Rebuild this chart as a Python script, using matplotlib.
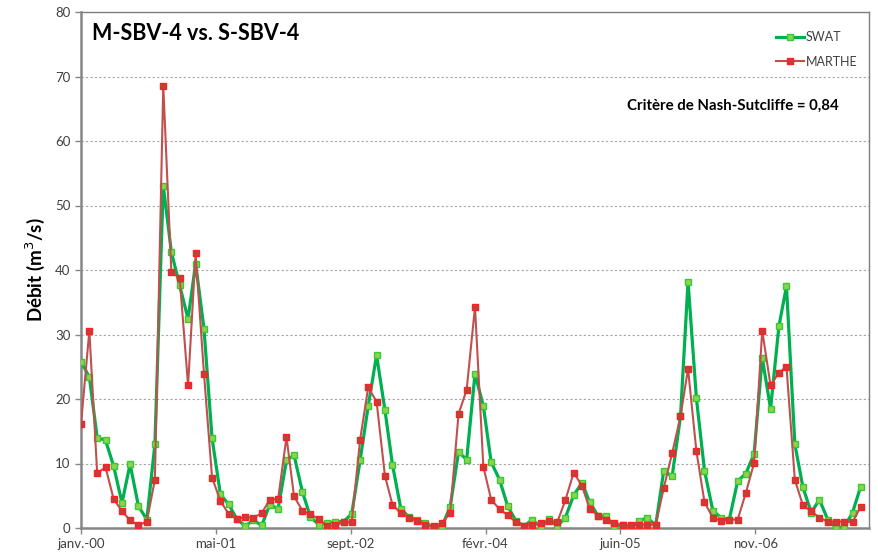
import matplotlib
matplotlib.use("Agg")
import matplotlib.pyplot as plt
import matplotlib.dates as mdates
from matplotlib.ticker import FuncFormatter, MultipleLocator
import pandas as pd
import datetime as dt

plt.rcParams['font.family'] = ['Lato', 'DejaVu Sans']

# monthly flows, janv. 2000 -> dec. 2007
months = pd.date_range("2000-01-01", periods=96, freq="MS")

swat = [25.8, 23.4, 14.0, 13.6, 9.6, 3.9, 9.9, 3.4, 1.3, 13.0,
        53.1, 42.8, 37.6, 32.4, 41.0, 30.9, 13.9, 5.2, 3.7, 1.4,
        0.3, 1.2, 0.4, 3.6, 3.0, 10.5, 11.3, 5.6, 1.7, 0.5,
        0.7, 1.0, 1.0, 2.2, 10.5, 18.9, 26.8, 18.3, 9.8, 3.0,
        1.7, 1.2, 0.8, 0.1, 0.3, 3.3, 11.8, 10.6, 23.9, 18.9,
        10.2, 7.5, 3.4, 1.1, 0.3, 1.3, 0.1, 1.4, 0.3, 1.6,
        5.1, 7.0, 4.0, 1.9, 1.8, 0.2, 0.5, 0.1, 1.1, 1.6,
        0.4, 8.9, 8.0, 17.3, 38.2, 20.1, 8.9, 2.7, 1.6, 1.3,
        7.3, 8.4, 11.5, 26.4, 18.5, 31.3, 37.5, 13.0, 6.3, 2.4,
        4.4, 1.3, 0.0, 0.1, 2.4, 6.4]

marthe = [16.1, 30.6, 8.5, 9.4, 4.5, 2.6, 1.2, 0.4, 1.0, 7.5,
          68.6, 39.7, 38.7, 22.1, 42.6, 23.9, 7.8, 4.2, 2.2, 1.4,
          1.7, 1.6, 2.3, 4.4, 4.5, 14.1, 4.9, 2.7, 2.1, 1.4,
          0.3, 0.4, 0.9, 0.9, 13.7, 21.8, 19.6, 8.1, 3.6, 2.3,
          1.6, 1.1, 0.4, 0.3, 0.7, 2.4, 17.7, 21.4, 34.3, 9.5,
          4.4, 2.9, 2.0, 0.9, 0.3, 0.5, 0.7, 1.1, 0.9, 4.3,
          8.6, 6.5, 3.0, 1.9, 1.2, 0.8, 0.5, 0.4, 0.5, 0.5,
          0.5, 6.2, 11.6, 17.3, 24.7, 11.9, 4.0, 1.6, 1.1, 1.3,
          1.3, 5.4, 10.1, 30.6, 22.1, 24.1, 25.0, 7.5, 3.5, 2.6,
          1.6, 1.0, 1.0, 1.0, 0.9, 3.3]

mois_fr = ['janv.', 'févr.', 'mars', 'avr.', 'mai', 'juin',
           'juil.', 'août', 'sept.', 'oct.', 'nov.', 'déc.']

fig = plt.figure(figsize=(8.79, 5.58), dpi=100)
ax = fig.add_axes([81 / 879, 30 / 558, 788 / 879, 516 / 558])

ax.plot(months, swat, color='#00b050', lw=2.3, marker='s', ms=4.5,
        mfc='#92d050', mec='#33cc33', mew=1.0, label='SWAT', zorder=3)
ax.plot(months, marthe, color='#c0504d', lw=1.5, marker='s', ms=4.5,
        mfc='#c0403d', mec='#ff2020', mew=1.0, label='MARTHE', zorder=4)

# excel-like date axis: one tick every 500 days
start = dt.datetime(2000, 1, 1)
ticks = [start + dt.timedelta(days=500 * k) for k in range(6)]
ax.set_xticks(ticks)


def fr_date(x, pos):
    d = mdates.num2date(x)
    return f"{mois_fr[d.month - 1]}-{d.year % 100:02d}"


ax.xaxis.set_major_formatter(FuncFormatter(fr_date))
ax.set_xlim(start, dt.datetime(2008, 1, 1))
ax.set_ylim(0, 80)
ax.yaxis.set_major_locator(MultipleLocator(10))

ax.grid(axis='y', color='#a6a6a6', linestyle=(0, (2, 2)), lw=0.8)
ax.set_axisbelow(True)

for side in ['top', 'right']:
    ax.spines[side].set_color('#7f7f7f')
    ax.spines[side].set_linewidth(1.0)
for side in ['left', 'bottom']:
    ax.spines[side].set_color('#868686')
    ax.spines[side].set_linewidth(1.8)

ax.tick_params(axis='both', colors='#868686', labelcolor='#404040',
               labelsize=9.5, length=4, width=1)

ax.set_ylabel('Débit (m$^3$/s)', fontsize=13.5, fontweight='bold',
              color='black', labelpad=6)

ax.text(0.014, 0.958, 'M-SBV-4 vs. S-SBV-4', transform=ax.transAxes,
        fontsize=15.5, fontweight='bold', ha='left', va='center')
ax.text(0.961, 0.818, 'Critère de Nash-Sutcliffe = 0,84', transform=ax.transAxes,
        fontsize=10.8, fontweight='bold', ha='right', va='center')

leg = ax.legend(loc='upper left', bbox_to_anchor=(0.882, 0.963), frameon=False,
                fontsize=9, handlelength=2.2, handletextpad=0.15,
                labelspacing=1.0, borderpad=0, borderaxespad=0)
for t in leg.get_texts():
    t.set_color('#404040')

fig.savefig('out.png', dpi=100)
